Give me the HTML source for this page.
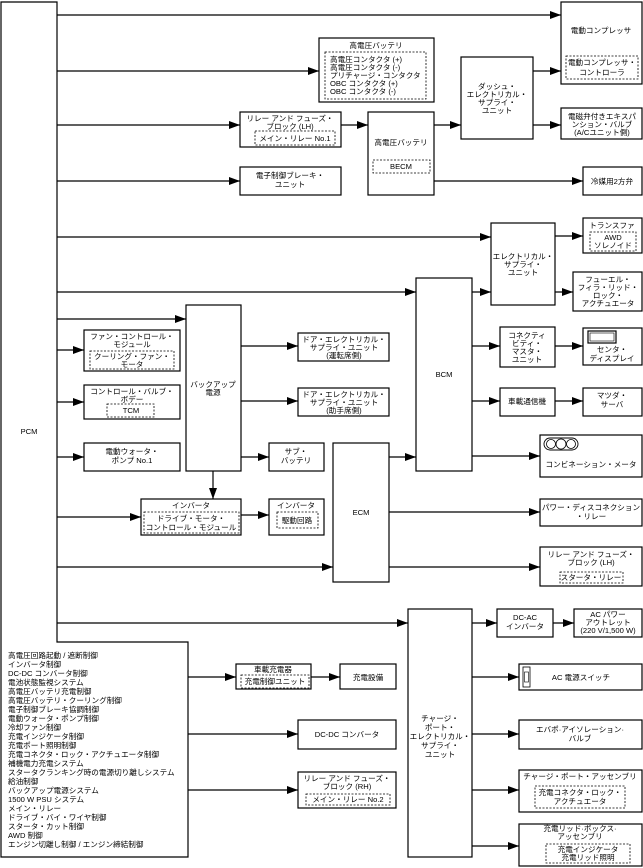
<!DOCTYPE html>
<html><head><meta charset="utf-8"><style>
html,body{margin:0;padding:0;background:#fff}
svg{display:block}
text{font-family:"Liberation Sans","Noto Sans CJK JP",sans-serif;font-size:7.6px;fill:#000}
.b{fill:#fff;stroke:#000;stroke-width:1.2}
.d{fill:none;stroke:#000;stroke-width:.8;stroke-dasharray:2 1.5}
.l{stroke:#000;stroke-width:1.2;fill:none}
</style></head><body>
<svg width="643" height="868" viewBox="0 0 643 868" xmlns="http://www.w3.org/2000/svg">
<defs><marker id="a" markerWidth="11" markerHeight="8" refX="11" refY="4" orient="auto" markerUnits="userSpaceOnUse"><path d="M0,0 L11,4 L0,8z" fill="#000"/></marker></defs>

<path class="b" d="M1,2 H57 V642 H188 V857 H1 Z"/>
<text x="29" y="434" text-anchor="middle">PCM</text>
<g>
<text x="8" y="658">高電圧回路起動 / 遮断制御</text>
<text x="8" y="667">インバータ制御</text>
<text x="8" y="676">DC-DC コンバータ制御</text>
<text x="8" y="685">電池状態監視システム</text>
<text x="8" y="694">高電圧バッテリ充電制御</text>
<text x="8" y="703">高電圧バッテリ・クーリング制御</text>
<text x="8" y="712">電子制御ブレーキ協調制御</text>
<text x="8" y="721">電動ウォータ・ポンプ制御</text>
<text x="8" y="730">冷却ファン制御</text>
<text x="8" y="739">充電インジケータ制御</text>
<text x="8" y="748">充電ポート照明制御</text>
<text x="8" y="757">充電コネクタ・ロック・アクチュエータ制御</text>
<text x="8" y="766">補機電力充電システム</text>
<text x="8" y="775">スタータクランキング時の電源切り離しシステム</text>
<text x="8" y="784">給油制御</text>
<text x="8" y="793">バックアップ電源システム</text>
<text x="8" y="802">1500 W PSU システム</text>
<text x="8" y="811">メイン・リレー</text>
<text x="8" y="820">ドライブ・バイ・ワイヤ制御</text>
<text x="8" y="829">スタータ・カット制御</text>
<text x="8" y="838">AWD 制御</text>
<text x="8" y="847">エンジン切離し制御 / エンジン締結制御</text>
</g>

<g class="l">
<path d="M57,15H561" marker-end="url(#a)"/>
<path d="M57,71H319" marker-end="url(#a)"/>
<path d="M533,71H561" marker-end="url(#a)"/>
<path d="M533,125H561" marker-end="url(#a)"/>
<path d="M57,125H240" marker-end="url(#a)"/>
<path d="M341,125H368" marker-end="url(#a)"/>
<path d="M434,125H461" marker-end="url(#a)"/>
<path d="M434,181H583" marker-end="url(#a)"/>
<path d="M57,181H240" marker-end="url(#a)"/>
<path d="M57,237H491" marker-end="url(#a)"/>
<path d="M555,236H583" marker-end="url(#a)"/>
<path d="M57,292H416" marker-end="url(#a)"/>
<path d="M472,292H491" marker-end="url(#a)"/>
<path d="M555,292H573" marker-end="url(#a)"/>
<path d="M57,319H186" marker-end="url(#a)"/>
<path d="M57,350H84" marker-end="url(#a)"/>
<path d="M57,402H84" marker-end="url(#a)"/>
<path d="M57,457H84" marker-end="url(#a)"/>
<path d="M241,346H298" marker-end="url(#a)"/>
<path d="M241,401H298" marker-end="url(#a)"/>
<path d="M241,457H269" marker-end="url(#a)"/>
<path d="M213,471V499" marker-end="url(#a)"/>
<path d="M57,517H141" marker-end="url(#a)"/>
<path d="M241,515H269" marker-end="url(#a)"/>
<path d="M389,457H416" marker-end="url(#a)"/>
<path d="M57,567H333" marker-end="url(#a)"/>
<path d="M472,346H500" marker-end="url(#a)"/>
<path d="M555,346H583" marker-end="url(#a)"/>
<path d="M472,401H500" marker-end="url(#a)"/>
<path d="M555,401H583" marker-end="url(#a)"/>
<path d="M472,456H540" marker-end="url(#a)"/>
<path d="M389,512H540" marker-end="url(#a)"/>
<path d="M389,567H540" marker-end="url(#a)"/>
<path d="M57,623H408" marker-end="url(#a)"/>
<path d="M472,623H497" marker-end="url(#a)"/>
<path d="M553,623H574" marker-end="url(#a)"/>
<path d="M188,677H236" marker-end="url(#a)"/>
<path d="M311,677H340" marker-end="url(#a)"/>
<path d="M188,734H298" marker-end="url(#a)"/>
<path d="M188,790H298" marker-end="url(#a)"/>
<path d="M472,677H519" marker-end="url(#a)"/>
<path d="M472,734H519" marker-end="url(#a)"/>
<path d="M472,790H519" marker-end="url(#a)"/>
<path d="M472,846H519" marker-end="url(#a)"/>
</g>

<rect class="b" x="561" y="2" width="81" height="82"/>
<text x="601" y="33" text-anchor="middle">電動コンプレッサ</text>
<rect class="d" x="566" y="56" width="72" height="23"/>
<text x="602" y="65" text-anchor="middle">電動コンプレッサ・</text>
<text x="602" y="75" text-anchor="middle">コントローラ</text>

<rect class="b" x="319" y="38" width="115" height="64"/>
<text x="376" y="48" text-anchor="middle">高電圧バッテリ</text>
<rect class="d" x="325" y="52" width="101" height="47"/>
<text x="330" y="62">高電圧コンタクタ (+)</text>
<text x="330" y="70">高電圧コンタクタ (-)</text>
<text x="330" y="78">プリチャージ・コンタクタ</text>
<text x="330" y="86">OBC コンタクタ (+)</text>
<text x="330" y="94">OBC コンタクタ (-)</text>

<rect class="b" x="461" y="57" width="72" height="82"/>
<text x="497" y="89" text-anchor="middle">ダッシュ・</text>
<text x="497" y="97" text-anchor="middle">エレクトリカル・</text>
<text x="497" y="105" text-anchor="middle">サプライ・</text>
<text x="497" y="113" text-anchor="middle">ユニット</text>

<rect class="b" x="561" y="108" width="81" height="31"/>
<text x="602" y="119" text-anchor="middle">電磁弁付きエキスパ</text>
<text x="602" y="127" text-anchor="middle">ンション・バルブ</text>
<text x="602" y="135" text-anchor="middle">(A/Cユニット側)</text>

<rect class="b" x="240" y="112" width="101" height="35"/>
<text x="290" y="121" text-anchor="middle">リレー アンド フューズ・</text>
<text x="290" y="129" text-anchor="middle">ブロック (LH)</text>
<rect class="d" x="255" y="131" width="80" height="14"/>
<text x="295" y="141" text-anchor="middle">メイン・リレー No.1</text>

<rect class="b" x="368" y="112" width="66" height="83"/>
<text x="401" y="145" text-anchor="middle">高電圧バッテリ</text>
<rect class="d" x="373" y="160" width="57" height="13"/>
<text x="401" y="169" text-anchor="middle">BECM</text>

<rect class="b" x="583" y="167" width="59" height="28"/>
<text x="612" y="184" text-anchor="middle">冷媒用2方弁</text>

<rect class="b" x="240" y="167" width="101" height="28"/>
<text x="290" y="178" text-anchor="middle">電子制御ブレーキ・</text>
<text x="290" y="187" text-anchor="middle">ユニット</text>

<rect class="b" x="491" y="223" width="64" height="82"/>
<text x="523" y="259" text-anchor="middle">エレクトリカル・</text>
<text x="523" y="267" text-anchor="middle">サプライ・</text>
<text x="523" y="275" text-anchor="middle">ユニット</text>

<rect class="b" x="583" y="218" width="59" height="35"/>
<text x="612" y="228" text-anchor="middle">トランスファ</text>
<rect class="d" x="590" y="232" width="46" height="19"/>
<text x="613" y="240" text-anchor="middle">AWD</text>
<text x="613" y="248" text-anchor="middle">ソレノイド</text>

<rect class="b" x="573" y="272" width="69" height="39"/>
<text x="608" y="282" text-anchor="middle">フューエル・</text>
<text x="608" y="290" text-anchor="middle">フィラ・リッド・</text>
<text x="608" y="298" text-anchor="middle">ロック・</text>
<text x="608" y="306" text-anchor="middle">アクチュエータ</text>

<rect class="b" x="416" y="278" width="56" height="193"/>
<text x="444" y="377" text-anchor="middle">BCM</text>

<rect class="b" x="186" y="305" width="55" height="166"/>
<text x="213" y="387" text-anchor="middle">バックアップ</text>
<text x="213" y="395" text-anchor="middle">電源</text>

<rect class="b" x="84" y="330" width="96" height="41"/>
<text x="132" y="339" text-anchor="middle">ファン・コントロール・</text>
<text x="132" y="347" text-anchor="middle">モジュール</text>
<rect class="d" x="90" y="351" width="84" height="18"/>
<text x="132" y="359" text-anchor="middle">クーリング・ファン・</text>
<text x="132" y="367" text-anchor="middle">モータ</text>

<rect class="b" x="84" y="385" width="96" height="34"/>
<text x="132" y="394" text-anchor="middle">コントロール・バルブ・</text>
<text x="132" y="402" text-anchor="middle">ボデー</text>
<rect class="d" x="107" y="404" width="47" height="13"/>
<text x="131" y="413" text-anchor="middle">TCM</text>

<rect class="b" x="84" y="443" width="96" height="28"/>
<text x="132" y="454" text-anchor="middle">電動ウォータ・</text>
<text x="132" y="463" text-anchor="middle">ポンプ No.1</text>

<rect class="b" x="298" y="333" width="91" height="28"/>
<text x="344" y="342" text-anchor="middle">ドア・エレクトリカル・</text>
<text x="344" y="350" text-anchor="middle">サプライ・ユニット</text>
<text x="344" y="358" text-anchor="middle">(運転席側)</text>

<rect class="b" x="298" y="388" width="91" height="28"/>
<text x="344" y="397" text-anchor="middle">ドア・エレクトリカル・</text>
<text x="344" y="405" text-anchor="middle">サプライ・ユニット</text>
<text x="344" y="413" text-anchor="middle">(助手席側)</text>

<rect class="b" x="269" y="443" width="55" height="28"/>
<text x="296" y="454" text-anchor="middle">サブ・</text>
<text x="296" y="463" text-anchor="middle">バッテリ</text>

<rect class="b" x="141" y="499" width="100" height="36"/>
<text x="191" y="508" text-anchor="middle">インバータ</text>
<rect class="d" x="144" y="512" width="95" height="21"/>
<text x="191" y="521" text-anchor="middle">ドライブ・モータ・</text>
<text x="191" y="530" text-anchor="middle">コントロール・モジュール</text>

<rect class="b" x="269" y="499" width="55" height="36"/>
<text x="296" y="508" text-anchor="middle">インバータ</text>
<rect class="d" x="277" y="512" width="41" height="16"/>
<text x="297" y="523" text-anchor="middle">駆動回路</text>

<rect class="b" x="333" y="443" width="56" height="139"/>
<text x="361" y="515" text-anchor="middle">ECM</text>

<rect class="b" x="500" y="327" width="55" height="40"/>
<text x="527" y="338" text-anchor="middle">コネクティ</text>
<text x="527" y="346" text-anchor="middle">ビティ・</text>
<text x="527" y="354" text-anchor="middle">マスタ・</text>
<text x="527" y="362" text-anchor="middle">ユニット</text>

<rect class="b" x="583" y="328" width="59" height="37"/>
<rect x="588" y="331" width="28" height="12" fill="none" stroke="#000" stroke-width="1.2"/>
<rect x="590" y="333" width="24" height="8" fill="none" stroke="#000" stroke-width=".6"/>
<text x="612" y="352" text-anchor="middle">センタ・</text>
<text x="612" y="361" text-anchor="middle">ディスプレイ</text>

<rect class="b" x="500" y="388" width="55" height="28"/>
<text x="527" y="404" text-anchor="middle">車載通信機</text>
<rect class="b" x="583" y="388" width="59" height="28"/>
<text x="612" y="398" text-anchor="middle">マツダ・</text>
<text x="612" y="407" text-anchor="middle">サーバ</text>

<rect class="b" x="540" y="435" width="102" height="42"/>
<path d="M550,438 H572 A6,6 0 0 1 572,450 H550 A6,6 0 0 1 550,438Z" fill="none" stroke="#000" stroke-width=".9"/>
<circle cx="551" cy="444" r="4.5" fill="none" stroke="#000" stroke-width=".8"/>
<circle cx="561" cy="444" r="5" fill="none" stroke="#000" stroke-width=".8"/>
<circle cx="571" cy="444" r="4.5" fill="none" stroke="#000" stroke-width=".8"/>
<text x="591" y="467" text-anchor="middle">コンビネーション・メータ</text>

<rect class="b" x="540" y="499" width="102" height="27"/>
<text x="591" y="510" text-anchor="middle">パワー・ディスコネクション</text>
<text x="591" y="519" text-anchor="middle">・リレー</text>

<rect class="b" x="540" y="547" width="102" height="39"/>
<text x="591" y="557" text-anchor="middle">リレー アンド フューズ・</text>
<text x="591" y="565" text-anchor="middle">ブロック (LH)</text>
<rect class="d" x="560" y="572" width="63" height="11"/>
<text x="591" y="580" text-anchor="middle">スタータ・リレー</text>

<rect class="b" x="408" y="609" width="64" height="248"/>
<text x="440" y="721" text-anchor="middle">チャージ・</text>
<text x="440" y="730" text-anchor="middle">ポート・</text>
<text x="440" y="739" text-anchor="middle">エレクトリカル・</text>
<text x="440" y="748" text-anchor="middle">サプライ・</text>
<text x="440" y="757" text-anchor="middle">ユニット</text>

<rect class="b" x="497" y="609" width="56" height="28"/>
<text x="525" y="620" text-anchor="middle">DC-AC</text>
<text x="525" y="629" text-anchor="middle">インバータ</text>
<rect class="b" x="574" y="609" width="68" height="28"/>
<text x="608" y="617" text-anchor="middle">AC パワー</text>
<text x="608" y="625" text-anchor="middle">アウトレット</text>
<text x="608" y="633" text-anchor="middle">(220 V/1,500 W)</text>

<rect class="b" x="236" y="664" width="75" height="25"/>
<text x="273" y="672" text-anchor="middle">車載充電器</text>
<rect class="d" x="241" y="675" width="68" height="13"/>
<text x="275" y="684" text-anchor="middle">充電制御ユニット</text>
<rect class="b" x="340" y="664" width="56" height="25"/>
<text x="368" y="680" text-anchor="middle">充電設備</text>

<rect class="b" x="298" y="720" width="98" height="29"/>
<text x="347" y="737" text-anchor="middle">DC-DC コンバータ</text>

<rect class="b" x="298" y="772" width="98" height="36"/>
<text x="347" y="781" text-anchor="middle">リレー アンド フューズ・</text>
<text x="347" y="789" text-anchor="middle">ブロック (RH)</text>
<rect class="d" x="306" y="794" width="84" height="11"/>
<text x="348" y="802" text-anchor="middle">メイン・リレー No.2</text>

<rect class="b" x="519" y="664" width="123" height="26"/>
<rect x="523" y="667" width="7" height="20" fill="#fff" stroke="#000" stroke-width=".8"/>
<rect x="524.5" y="672" width="4" height="10" fill="none" stroke="#000" stroke-width=".6"/>
<text x="581" y="680" text-anchor="middle">AC 電源スイッチ</text>

<rect class="b" x="519" y="720" width="123" height="29"/>
<text x="580" y="732" text-anchor="middle">エバポ·アイソレーション·</text>
<text x="580" y="741" text-anchor="middle">バルブ</text>

<rect class="b" x="519" y="770" width="123" height="42"/>
<text x="580" y="779" text-anchor="middle">チャージ・ポート・アッセンブリ</text>
<rect class="d" x="535" y="786" width="90" height="22"/>
<text x="580" y="795" text-anchor="middle">充電コネクタ・ロック・</text>
<text x="580" y="804" text-anchor="middle">アクチュエータ</text>

<rect class="b" x="519" y="824" width="123" height="42"/>
<text x="580" y="831" text-anchor="middle">充電リッド·ボックス·</text>
<text x="580" y="839" text-anchor="middle">アッセンブリ</text>
<rect class="d" x="546" y="844" width="84" height="19"/>
<text x="588" y="852" text-anchor="middle">充電インジケータ</text>
<text x="588" y="860" text-anchor="middle">充電リッド照明</text>
</svg>
</body></html>
